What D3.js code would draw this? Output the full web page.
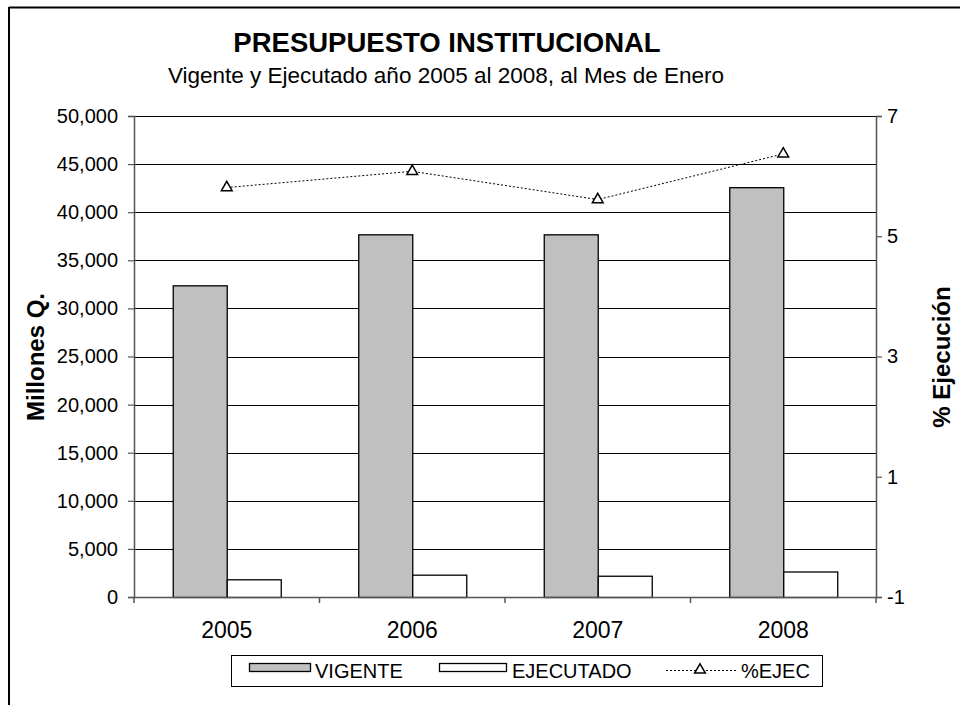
<!DOCTYPE html>
<html><head><meta charset="utf-8">
<script src="https://cdn.jsdelivr.net/npm/d3@7"></script>
<style>body{margin:0;background:#fff}svg{display:block;font-family:"Liberation Sans",Arial,sans-serif}</style>
</head><body><svg id="c" width="960" height="705"></svg>
<script>
const years = ["2005","2006","2007","2008"];
const vigente = [32400, 37700, 37700, 42600];
const ejecutado = [1840, 2320, 2210, 2650];
const pctEjec = [5.81, 6.08, 5.61, 6.37];
const leftTicks = [0,5000,10000,15000,20000,25000,30000,35000,40000,45000,50000];
const rightTicks = [-1,1,3,5,7];

const svg = d3.select("#c");
const L = 134, R = 876, T = 116, B = 597;
const FF = "Liberation Sans, Arial, sans-serif";

// outer border (top and left visible)
svg.append("line").attr("x1",9).attr("x2",960).attr("y1",7.5).attr("y2",7.5).attr("stroke","#000").attr("stroke-width",2);
svg.append("line").attr("x1",9).attr("x2",9).attr("y1",7).attr("y2",705).attr("stroke","#000").attr("stroke-width",2);

const x = d3.scaleBand().domain(years).range([L,R]).paddingInner(0).paddingOuter(0);
const y = d3.scaleLinear().domain([0,50000]).range([B,T]);
const y2 = d3.scaleLinear().domain([-1,7]).range([B,T]);

// gridlines
svg.append("g").selectAll("line").data(leftTicks.filter(d=>d>0)).join("line")
  .attr("x1",L).attr("x2",R).attr("y1",d=>Math.round(y(d))+0.5).attr("y2",d=>Math.round(y(d))+0.5)
  .attr("stroke","#000").attr("stroke-width",1);

// bars
const bw = 54;
const g = svg.append("g");
g.selectAll("rect.v").data(years).join("rect").attr("class","v")
  .attr("x",d=>x(d)+x.bandwidth()/2-bw+0.5).attr("width",bw)
  .attr("y",(d,i)=>y(vigente[i])+0.5).attr("height",(d,i)=>B-y(vigente[i]))
  .attr("fill","#c0c0c0").attr("stroke","#000").attr("stroke-width",1.3);
g.selectAll("rect.e").data(years).join("rect").attr("class","e")
  .attr("x",d=>x(d)+x.bandwidth()/2+0.5).attr("width",bw)
  .attr("y",(d,i)=>y(ejecutado[i])+0.5).attr("height",(d,i)=>B-y(ejecutado[i]))
  .attr("fill","#fff").attr("stroke","#000").attr("stroke-width",1.3);

// axes
const axCol = "#555";
const yAx = svg.append("g").attr("transform",`translate(${L},0)`)
  .call(d3.axisLeft(y).tickValues(leftTicks).tickFormat(d3.format(",")).tickSize(6).tickPadding(10));
const y2Ax = svg.append("g").attr("transform",`translate(${R},0)`)
  .call(d3.axisRight(y2).tickValues(rightTicks).tickFormat(d=>String(d)).tickSize(6).tickPadding(5));
const xAx = svg.append("g").attr("transform",`translate(0,${B})`)
  .call(d3.axisBottom(x).tickSize(0).tickPadding(25));
// category boundary ticks
svg.append("g").selectAll("line").data(years.concat(["end"])).join("line")
  .attr("x1",(d,i)=>L+i*x.bandwidth()).attr("x2",(d,i)=>L+i*x.bandwidth())
  .attr("y1",B).attr("y2",B+6).attr("stroke",axCol).attr("stroke-width",1.5);
[yAx,y2Ax,xAx].forEach(a=>{
  a.selectAll(".domain").attr("stroke",axCol).attr("stroke-width",1.5);
  a.selectAll(".tick line").attr("stroke",axCol).attr("stroke-width",1.2);
  a.selectAll("text").attr("font-size",20).attr("fill","#000").attr("font-family",FF);
});
xAx.selectAll("text").attr("font-size",23);

// line
const line = d3.line().x((d,i)=>x(years[i])+x.bandwidth()/2).y(d=>y2(d));
svg.append("path").datum(pctEjec).attr("d",line).attr("fill","none")
  .attr("stroke","#000").attr("stroke-width",1).attr("stroke-dasharray","2,2");
const tri = d3.symbol().type(d3.symbolTriangle).size(50);
svg.append("g").selectAll("path").data(pctEjec).join("path")
  .attr("d",tri).attr("transform",(d,i)=>`translate(${x(years[i])+x.bandwidth()/2},${y2(d)})`)
  .attr("fill","#fff").attr("stroke","#000").attr("stroke-width",1.5);

// titles
svg.append("text").attr("x",447).attr("y",52).attr("text-anchor","middle")
  .attr("font-size",27.5).attr("font-weight","bold").text("PRESUPUESTO INSTITUCIONAL");
svg.append("text").attr("x",446).attr("y",83).attr("text-anchor","middle")
  .attr("font-size",22.5).text("Vigente y Ejecutado año 2005 al 2008, al Mes de Enero");
svg.append("text").attr("transform","translate(44,357) rotate(-90)").attr("text-anchor","middle")
  .attr("font-size",24).attr("font-weight","bold").text("Millones Q.");
svg.append("text").attr("transform","translate(950,357) rotate(-90)").attr("text-anchor","middle")
  .attr("font-size",24).attr("font-weight","bold").text("% Ejecución");

// legend
const lg = svg.append("g").attr("font-family",FF);
lg.append("rect").attr("x",231.5).attr("y",655.5).attr("width",591).attr("height",31)
  .attr("fill","#fff").attr("stroke","#000").attr("stroke-width",1);
lg.append("rect").attr("x",249.5).attr("y",663.5).attr("width",61).attr("height",8)
  .attr("fill","#c0c0c0").attr("stroke","#000").attr("stroke-width",1.3);
lg.append("text").attr("x",315).attr("y",678).attr("font-size",20).text("VIGENTE");
lg.append("rect").attr("x",439.5).attr("y",663.5).attr("width",67).attr("height",8)
  .attr("fill","#fff").attr("stroke","#000").attr("stroke-width",1.3);
lg.append("text").attr("x",512).attr("y",678).attr("font-size",20).text("EJECUTADO");
lg.append("line").attr("x1",666).attr("x2",736).attr("y1",670.5).attr("y2",670.5)
  .attr("stroke","#000").attr("stroke-width",1).attr("stroke-dasharray","2,2");
lg.append("path").attr("d",tri).attr("transform","translate(700,670)")
  .attr("fill","#fff").attr("stroke","#000").attr("stroke-width",1.5);
lg.append("text").attr("x",741).attr("y",678).attr("font-size",20).text("%EJEC");
</script></body></html>
